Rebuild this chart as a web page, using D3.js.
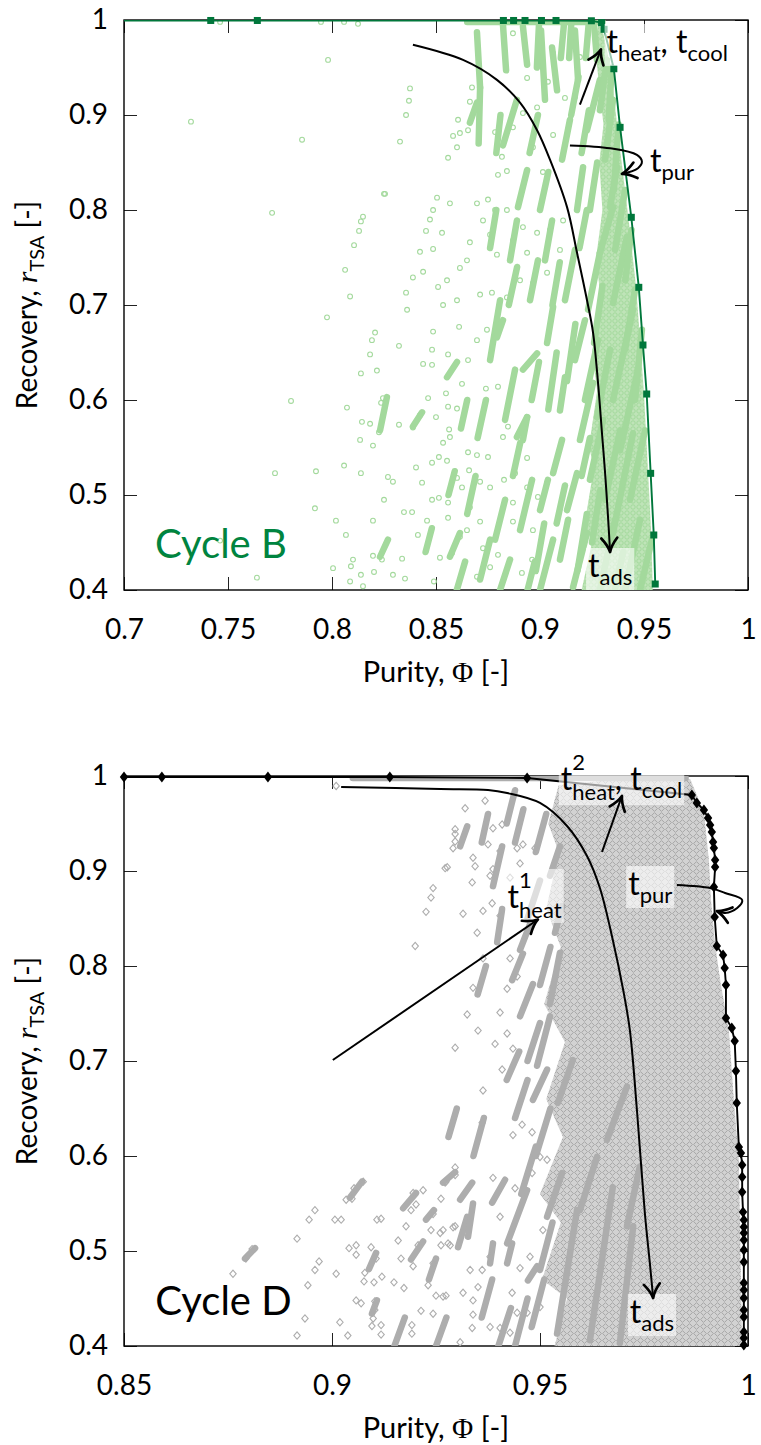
<!DOCTYPE html>
<html><head><meta charset="utf-8">
<script src="https://cdn.jsdelivr.net/npm/d3@7"></script>
<style>body{margin:0;background:#fff}svg{display:block}</style>
</head><body><script>
// ---------------- DATA ----------------
const xTicksB = [0.7,0.75,0.8,0.85,0.9,0.95,1];
const xTickLabelsB = ["0.7","0.75","0.8","0.85","0.9","0.95","1"];
const xTicksD = [0.85,0.9,0.95,1];
const xTickLabelsD = ["0.85","0.9","0.95","1"];
const yTicks = [0.4,0.5,0.6,0.7,0.8,0.9,1];
const yTickLabels = ["0.4","0.5","0.6","0.7","0.8","0.9","1"];

// Cycle B Pareto front (purity, recovery)
const frontB = [[0.69,0.9995],[0.7417,0.9995],[0.7641,0.9995],[0.8824,0.9995],[0.8873,0.9995],[0.8928,0.9995],[0.9007,0.9995],[0.9077,0.9995],[0.9247,0.9992],[0.9296,0.9972],[0.9308,0.9902],[0.9355,0.9487],[0.9385,0.887],[0.9439,0.7923],[0.9475,0.7186],[0.9495,0.6579],[0.9513,0.6063],[0.9532,0.5228],[0.9547,0.4579],[0.9554,0.4063]];

// Cycle B densely populated band next to the front
const denseB = [[0.9280,0.995],[0.9300,0.99],[0.9340,0.95],[0.9372,0.887],[0.9425,0.792],[0.9462,0.7186],[0.9483,0.6579],[0.9500,0.6063],[0.9520,0.5228],[0.9535,0.4579],[0.9542,0.40],[0.9200,0.40],[0.9250,0.45],[0.9215,0.47],[0.9260,0.53],[0.9235,0.55],[0.9275,0.61],[0.9250,0.65],[0.9290,0.71],[0.9270,0.75],[0.9300,0.80],[0.9285,0.85],[0.9305,0.89],[0.9285,0.93],[0.9265,0.97]];

// Cycle B dense streaks of simulations [x0,y0,x1,y1]
const streaksB = [[0.8712,0.929,0.8697,0.987],[0.8705,0.870,0.8712,0.929],[0.8938,0.953,0.8918,0.993],[0.9082,0.926,0.9058,0.971],[0.9024,0.916,0.9005,0.989],[0.9183,0.937,0.9168,0.989],[0.9274,0.958,0.9260,0.995],[0.8837,0.947,0.8822,0.995],[0.8822,0.868,0.8889,0.916],[0.9106,0.853,0.9144,0.895],[0.9178,0.800,0.9207,0.845],[0.8894,0.803,0.8938,0.842],[0.9226,0.884,0.9288,0.937],[0.9337,0.803,0.9370,0.845],[0.9288,0.755,0.9351,0.803],[0.9231,0.695,0.9288,0.755],[0.9351,0.702,0.9418,0.772],[0.9034,0.660,0.9063,0.698],[0.9096,0.589,0.9120,0.624],[0.9063,0.523,0.9106,0.558],[0.9130,0.484,0.9178,0.523],[0.9192,0.558,0.9255,0.618],[0.9274,0.582,0.9337,0.653],[0.9351,0.600,0.9447,0.695],[0.9351,0.460,0.9447,0.565],[0.9159,0.403,0.9226,0.460],[0.9000,0.400,0.9063,0.453],[0.8918,0.558,0.8938,0.582],[0.8918,0.632,0.8986,0.649],[0.9409,0.400,0.9481,0.474],[0.9481,0.400,0.9538,0.453],[0.9433,0.495,0.9505,0.568],[0.9385,0.547,0.9471,0.632],[0.9457,0.600,0.9490,0.674],[0.9288,0.400,0.9361,0.474],[0.9313,0.495,0.9385,0.568],[0.9240,0.516,0.9303,0.579],[0.9216,0.600,0.9279,0.663],[0.9409,0.653,0.9457,0.716],[0.9410,0.726,0.9440,0.779],[0.9361,0.758,0.9409,0.821],[0.9355,0.821,0.9378,0.890],[0.9313,0.853,0.9351,0.916],[0.9288,0.905,0.9322,0.958],[0.9330,0.895,0.9345,0.950],[0.8760,0.642,0.8808,0.705],[0.8832,0.579,0.8880,0.632],[0.8904,0.463,0.8962,0.516],[0.8784,0.453,0.8832,0.495],[0.8952,0.705,0.8990,0.747],[0.9024,0.747,0.9058,0.789],[0.8856,0.747,0.8889,0.789],[0.8712,0.411,0.8760,0.453],[0.8808,0.400,0.8856,0.432],[0.9000,0.484,0.9038,0.516],[0.8231,0.568,0.8264,0.603],[0.8231,0.435,0.8269,0.453],[0.8567,0.435,0.8615,0.460],[0.8889,0.561,0.8938,0.582],[0.8553,0.624,0.8601,0.640],[0.8389,0.572,0.8433,0.587],[0.8793,0.666,0.8822,0.684],[0.8663,0.892,0.8697,0.913],[0.9120,0.705,0.9168,0.758],[0.9096,0.432,0.9135,0.474],[0.9168,0.642,0.9216,0.684],[0.865,0.998,0.930,0.998],
[0.9130,0.620,0.9170,0.680],[0.9040,0.590,0.9080,0.650],[0.8960,0.600,0.8995,0.640],[0.9060,0.700,0.9095,0.745],[0.8980,0.420,0.9020,0.470],[0.9180,0.420,0.9225,0.480],[0.9250,0.450,0.9290,0.505],[0.9200,0.520,0.9240,0.560],[0.9260,0.660,0.9300,0.720],[0.9190,0.760,0.9225,0.800],[0.9240,0.800,0.9275,0.850],[0.9200,0.860,0.9235,0.905],[0.9150,0.900,0.9185,0.940],[0.8950,0.860,0.8990,0.900],[0.9000,0.800,0.9040,0.840],[0.8850,0.700,0.8890,0.740],[0.8870,0.520,0.8905,0.555],[0.8700,0.560,0.8740,0.600],[0.8650,0.480,0.8690,0.520],[0.8600,0.400,0.8640,0.430],[0.8940,0.400,0.8975,0.430],[0.9360,0.400,0.9400,0.440],[0.9080,0.470,0.9120,0.510],[0.8760,0.760,0.8790,0.800],[0.8620,0.570,0.8650,0.600],[0.8560,0.500,0.8590,0.525],[0.8450,0.440,0.8480,0.465],[0.8790,0.860,0.8810,0.900],[0.9100,0.960,0.9115,0.995],[0.8985,0.950,0.8995,0.995],[0.9140,0.960,0.9150,0.995],[0.9220,0.960,0.9235,0.998]];

// Cycle B isolated simulations
const pointsB = [[0.7462,0.998],[0.7947,0.998],[0.8058,0.998],[0.8125,0.996],[0.7981,0.958],[0.7322,0.893],[0.7856,0.874],[0.7712,0.797],[0.8149,0.793],[0.8139,0.788],[0.8130,0.778],[0.8106,0.763],[0.8063,0.737],[0.8087,0.709],[0.7976,0.687],[0.8250,0.817],[0.8207,0.671],[0.8192,0.663],[0.8183,0.648],[0.8139,0.628],[0.8216,0.631],[0.7803,0.599],[0.8072,0.592],[0.8245,0.602],[0.8236,0.597],[0.8144,0.577],[0.8183,0.575],[0.8226,0.566],[0.8135,0.558],[0.8197,0.552],[0.7726,0.523],[0.7923,0.525],[0.8058,0.531],[0.8139,0.523],[0.8250,0.495],[0.7918,0.486],[0.8019,0.473],[0.8197,0.473],[0.8067,0.458],[0.7462,0.452],[0.8101,0.432],[0.8197,0.436],[0.8091,0.425],[0.8005,0.423],[0.8240,0.432],[0.7639,0.413],[0.8087,0.409],[0.8139,0.416],[0.8202,0.419],[0.8149,0.404],
[0.8255,0.817],[0.8327,0.872],[0.8356,0.900],[0.8370,0.915],[0.8375,0.928],[0.8423,0.756],[0.8389,0.729],[0.8356,0.713],[0.8486,0.759],[0.8452,0.778],[0.8471,0.790],[0.8486,0.800],[0.8505,0.813],[0.8529,0.776],[0.8567,0.807],[0.8558,0.855],[0.8582,0.878],[0.8615,0.881],[0.8601,0.866],[0.8606,0.895],[0.8663,0.914],[0.8673,0.929],[0.8654,0.884],[0.8697,0.807],[0.8750,0.811],[0.8784,0.800],[0.8798,0.837],[0.8841,0.841],[0.8784,0.882],[0.8817,0.856],[0.8870,0.887],[0.8918,0.902],[0.8966,0.866],[0.8986,0.908],[0.8870,0.986],[0.8938,0.939],[0.9024,0.919],[0.9038,0.935],[0.9120,0.918],[0.9168,0.919],[0.9192,0.961],[0.9063,0.965],[0.9014,0.840],[0.9063,0.879],[0.8663,0.766],[0.8649,0.747],[0.8615,0.739],[0.8553,0.726],[0.8510,0.719],[0.8438,0.735],[0.8534,0.700],[0.8601,0.705],[0.8712,0.711],[0.8769,0.713],[0.8841,0.708],[0.8904,0.726],[0.8966,0.723],[0.9034,0.734],[0.9096,0.758],[0.9111,0.789],[0.9048,0.779],[0.8986,0.776],[0.8918,0.782],[0.8870,0.768],[0.8793,0.753],[0.8760,0.774],[0.8726,0.789],[0.8938,0.755],[0.8841,0.800],
[0.8361,0.695],[0.8322,0.657],[0.8486,0.672],[0.8481,0.653],[0.8438,0.638],[0.8481,0.637],[0.8558,0.648],[0.8611,0.677],[0.8654,0.642],[0.8697,0.663],[0.8745,0.674],[0.8462,0.602],[0.8548,0.607],[0.8625,0.617],[0.8740,0.612],[0.8798,0.614],[0.8558,0.593],[0.8601,0.591],[0.8500,0.582],[0.8322,0.574],[0.8389,0.571],[0.8423,0.584],[0.8563,0.569],[0.8567,0.561],[0.8534,0.555],[0.8514,0.540],[0.8481,0.534],[0.8404,0.529],[0.8553,0.536],[0.8654,0.545],[0.8659,0.526],[0.8697,0.542],[0.8750,0.540],[0.8822,0.561],[0.8846,0.572],[0.8433,0.513],[0.8269,0.519],[0.8293,0.514],[0.8481,0.495],[0.8514,0.497],[0.8558,0.492],[0.8601,0.518],[0.8625,0.508],[0.8346,0.482],[0.8385,0.482],[0.8457,0.473],[0.8558,0.476],[0.8519,0.434],[0.8413,0.458],[0.8337,0.433],[0.8293,0.416],[0.8351,0.412],[0.8490,0.409],[0.8577,0.439],[0.8615,0.456],[0.8649,0.463],[0.8712,0.472],[0.8769,0.453],[0.8726,0.444],[0.8697,0.414],[0.8798,0.437],[0.8760,0.424],[0.8870,0.472],[0.8870,0.492],[0.8827,0.516],[0.8760,0.508],[0.8712,0.514],[0.8663,0.487],[0.8913,0.418],[0.8962,0.432],[0.8966,0.463],[0.8880,0.523],[0.8938,0.539],[0.8938,0.508],[0.8990,0.498],[0.9034,0.513]];

// Cycle D Pareto front
const frontD = [[0.85,0.9989],[0.8591,0.9989],[0.8846,0.9989],[0.9139,0.9989],[0.9469,0.9979],[0.9865,0.98],[0.9877,0.9716],[0.9894,0.9642],[0.9904,0.9558],[0.9909,0.9484],[0.9913,0.9411],[0.9916,0.9305],[0.9918,0.9242],[0.9921,0.9116],[0.9921,0.9042],[0.9918,0.8832],[0.9920,0.8516],[0.9925,0.8211],[0.9940,0.8116],[0.9944,0.7979],[0.9947,0.78],[0.9947,0.7453],[0.9961,0.7347],[0.9968,0.7211],[0.9971,0.6895],[0.9973,0.6558],[0.9978,0.6095],[0.9983,0.6032],[0.9986,0.5905],[0.9986,0.5779],[0.9986,0.5621],[0.9988,0.5411],[0.9990,0.5326],[0.9990,0.5253],[0.9990,0.5189],[0.9990,0.5116],[0.9990,0.5011],[0.9990,0.4884],[0.9990,0.4663],[0.9990,0.4589],[0.9990,0.4505],[0.9990,0.4379],[0.9990,0.4305],[0.9990,0.4147],[0.9990,0.4084],[0.9990,0.4011]];

// Cycle D densely populated region (outline of overlapping simulations)
const denseD = [[0.9545,0.9905],[0.9692,0.9968],[0.9861,0.9968],[0.9894,0.9621],[0.9906,0.9116],[0.9911,0.8695],[0.9921,0.8221],[0.9935,0.78],[0.9954,0.7326],[0.9966,0.6589],[0.9978,0.5958],[0.9986,0.4],[0.9535,0.4],[0.9565,0.45],[0.9505,0.47],[0.9550,0.53],[0.9500,0.56],[0.9555,0.62],[0.9515,0.66],[0.9560,0.72],[0.9510,0.76],[0.9550,0.82],[0.9515,0.86],[0.9545,0.92],[0.9520,0.95]];

const streaksD = [[0.9190,0.491,0.9219,0.510],[0.9226,0.533,0.9245,0.543],[0.9233,0.470,0.9250,0.492],[0.9096,0.434,0.9108,0.448],[0.9089,0.481,0.9106,0.498],[0.9171,0.545,0.9202,0.561],[0.9267,0.572,0.9296,0.583],[0.8791,0.492,0.8815,0.503],[0.9043,0.556,0.9072,0.573],[0.9387,0.884,0.9409,0.926],[0.9397,0.825,0.9409,0.860],[0.9308,0.926,0.9325,0.947],[0.9452,0.817,0.9476,0.844],[0.9433,0.785,0.9459,0.813],[0.9452,0.747,0.9483,0.781],[0.9493,0.695,0.9524,0.747],[0.9524,0.760,0.9548,0.814],[0.9536,0.835,0.9553,0.863],[0.9524,0.895,0.9548,0.926],[0.9308,0.554,0.9337,0.572],[0.9303,0.504,0.9325,0.536],[0.9327,0.515,0.9339,0.550],[0.9380,0.487,0.9387,0.508],[0.9385,0.551,0.9416,0.575],[0.9421,0.487,0.9433,0.508],[0.9421,0.508,0.9469,0.564],[0.9517,0.536,0.9553,0.582],[0.9471,0.469,0.9493,0.484],[0.9541,0.413,0.9589,0.543],[0.9596,0.543,0.9637,0.599],[0.9620,0.406,0.9675,0.567],[0.9483,0.659,0.9517,0.691],[0.9543,0.656,0.9579,0.701],[0.9661,0.617,0.9709,0.673],[0.9692,0.403,0.9724,0.526],[0.9709,0.526,0.9740,0.589],[0.905,0.998,0.985,0.998],
[0.9440,0.400,0.9470,0.450],[0.9480,0.420,0.9510,0.470],[0.9500,0.480,0.9530,0.530],[0.9455,0.560,0.9490,0.610],[0.9490,0.600,0.9525,0.650],[0.9440,0.640,0.9470,0.680],[0.9470,0.700,0.9500,0.740],[0.9420,0.680,0.9450,0.710],[0.9500,0.780,0.9525,0.820],[0.9470,0.850,0.9500,0.890],[0.9490,0.920,0.9515,0.960],[0.9440,0.930,0.9460,0.965],[0.9420,0.950,0.9440,0.985],[0.9360,0.930,0.9375,0.960],[0.9400,0.400,0.9430,0.440],[0.9360,0.430,0.9385,0.470],[0.9340,0.600,0.9365,0.640],[0.9280,0.620,0.9300,0.650],[0.9250,0.400,0.9275,0.430],[0.9150,0.400,0.9175,0.430],[0.9350,0.770,0.9370,0.800]];

const pointsD = [[0.9010,0.9895],[0.9296,0.944],[0.9296,0.931],[0.9277,0.904],[0.9243,0.882],[0.9238,0.872],[0.9226,0.857],[0.9200,0.821],[0.9296,0.714],[0.9075,0.573],[0.9053,0.566],[0.9034,0.554],[0.9048,0.555],[0.8959,0.543],[0.8945,0.533],[0.8916,0.513],[0.9007,0.533],[0.9022,0.533],[0.8808,0.502],[0.8793,0.492],[0.8762,0.476],[0.8969,0.489],[0.8959,0.480],[0.9010,0.476],[0.8942,0.464],[0.8935,0.429],[0.8916,0.411],[0.9019,0.425],[0.9038,0.411],[0.9058,0.496],[0.9041,0.503],[0.9094,0.504],[0.9106,0.492],[0.9108,0.533],[0.9118,0.534],[0.9058,0.506],[0.9079,0.477],[0.9077,0.468],[0.9101,0.467],[0.9120,0.473],[0.9058,0.448],[0.9070,0.445],[0.9103,0.447],[0.9103,0.438],[0.9099,0.429],[0.9096,0.421],[0.9118,0.422],[0.9118,0.412],[0.9159,0.511],[0.9166,0.492],[0.9149,0.467],[0.9173,0.461],[0.9195,0.561],[0.9202,0.549],[0.9219,0.564],[0.9190,0.543],[0.9178,0.526],[0.9207,0.506],[0.9195,0.484],[0.9214,0.437],[0.9192,0.422],[0.9192,0.413],[0.9243,0.434],[0.9231,0.464],[0.9243,0.487],[0.9250,0.453],[0.9274,0.453],[0.9243,0.539],[0.9238,0.522],[0.9267,0.522],[0.9262,0.506],[0.9284,0.506],[0.9262,0.555],[0.9274,0.573],[0.9296,0.580],[0.9296,0.526],
[0.9272,0.903],[0.9337,0.888],[0.9315,0.855],[0.9344,0.905],[0.9339,0.914],[0.9368,0.974],[0.9296,0.939],[0.9291,0.924],[0.9320,0.966],[0.9387,0.945],[0.9409,0.949],[0.9375,0.928],[0.9404,0.921],[0.9387,0.902],[0.9380,0.895],[0.9428,0.893],[0.9445,0.924],[0.9459,0.928],[0.9488,0.924],[0.9452,0.908],[0.9363,0.858],[0.9385,0.866],[0.9404,0.853],[0.9349,0.835],[0.9363,0.808],[0.9339,0.777],[0.9325,0.749],[0.9351,0.732],[0.9404,0.751],[0.9421,0.729],[0.9435,0.713],[0.9392,0.718],[0.9428,0.808],[0.9445,0.789],[0.9421,0.776],
[0.9260,0.519],[0.9267,0.452],[0.9296,0.588],[0.9272,0.572],[0.9279,0.508],[0.9291,0.525],[0.9308,0.404],[0.9337,0.419],[0.9315,0.456],[0.9339,0.448],[0.9361,0.635],[0.9363,0.669],[0.9409,0.691],[0.9435,0.622],[0.9457,0.633],[0.9481,0.625],[0.9517,0.596],[0.9500,0.599],[0.9481,0.582],[0.9387,0.577],[0.9440,0.566],[0.9404,0.536],[0.9380,0.494],[0.9361,0.480],[0.9332,0.480],[0.9351,0.462],[0.9380,0.420],[0.9404,0.419],[0.9339,0.433],[0.9428,0.414],[0.9445,0.435],[0.9469,0.435],[0.9500,0.441],[0.9433,0.456],[0.9452,0.482],[0.9476,0.494],[0.9507,0.522]];

// Annotation arrows (data coordinates)
const arrowsB = [
  [[0.8389,0.974],[0.8630,0.958],[0.8793,0.937],[0.8904,0.913],[0.8986,0.884],[0.9048,0.853],[0.9130,0.803],[0.9178,0.755],[0.9226,0.705],[0.9255,0.671],[0.9279,0.618],[0.9298,0.565],[0.9313,0.523],[0.9327,0.477],[0.9337,0.44]],
  [[0.9192,0.911],[0.9293,0.969]],
  [[0.9144,0.868],[0.9337,0.865],[0.9466,0.858],[0.9490,0.851],[0.9471,0.844],[0.9394,0.838]]
];
const arrowsD = [
  [[0.9022,0.9884],[0.9260,0.9863],[0.9375,0.9853],[0.9421,0.9821],[0.9500,0.9716],[0.9565,0.9474],[0.9613,0.9158],[0.9644,0.8821],[0.9675,0.8274],[0.9700,0.7747],[0.9716,0.7326],[0.9733,0.6484],[0.9752,0.54],[0.9764,0.4874],[0.9772,0.4505]],
  [[0.9002,0.701],[0.9495,0.849]],
  [[0.9649,0.92],[0.9697,0.979]],
  [[0.9829,0.8853],[0.9909,0.8821],[0.9945,0.8768],[0.9986,0.8695],[0.9974,0.861],[0.9945,0.8558],[0.9925,0.8579]]
];
// Labels: [x, y, segments]
const labelsB = [
  [0.9320,0.9653,[["t"],["heat","sub"],[", t"],["cool","sub"]]],
  [0.9529,0.840,[["t"],["pur","sub"]]],
  [0.9231,0.4137,[["t"],["ads","sub"]]]
];
const labelsD = [
  [0.9550,0.9853,[["t"],["2","sup"],["heat","subsup"],[", t"],["cool","sub"]]],
  [0.9422,0.8611,[["t"],["1","sup"],["heat","subsup"]]],
  [0.9712,0.8747,[["t"],["pur","sub"]]],
  [0.9716,0.4242,[["t"],["ads","sub"]]]
];

// ---------------- DRAWING ----------------
const FONT = "Lato, 'Liberation Sans', 'DejaVu Sans', sans-serif";
const svg = d3.select('body').append('svg').attr('width',761).attr('height',1445)
  .style('font-family',FONT);
const defs = svg.append('defs');
const patD = defs.append('pattern').attr('id','texD').attr('patternUnits','userSpaceOnUse').attr('width',7).attr('height',7);
patD.append('rect').attr('width',7).attr('height',7).attr('fill','#d2d2d2');
patD.append('path').attr('d','M3.5,0.6L6.4,3.5L3.5,6.4L0.6,3.5Z').attr('fill','none').attr('stroke','#a6a6a6').attr('stroke-width',1);
const patB = defs.append('pattern').attr('id','texB').attr('patternUnits','userSpaceOnUse').attr('width',6).attr('height',6);
patB.append('rect').attr('width',6).attr('height',6).attr('fill','#bfe4b8');
patB.append('circle').attr('cx',3).attr('cy',3).attr('r',2.2).attr('fill','none').attr('stroke','#a3d99c').attr('stroke-width',1);

const L=124, R=748, PH=570;

function arrowHead(g, p, ang, color){
  const len=14, w=8;
  const ca=Math.cos(ang), sa=Math.sin(ang);
  const bx=p[0]-ca*len, by=p[1]-sa*len;
  const nx=-sa, ny=ca;
  const l=[bx+nx*w, by+ny*w], r=[bx-nx*w, by-ny*w];
  const c1=[p[0]-ca*len*0.45+nx*w*0.2, p[1]-sa*len*0.45+ny*w*0.2];
  const c2=[p[0]-ca*len*0.45-nx*w*0.2, p[1]-sa*len*0.45-ny*w*0.2];
  g.append('path').attr('d',`M${l[0]},${l[1]}Q${c1[0]},${c1[1]} ${p[0]},${p[1]}Q${c2[0]},${c2[1]} ${r[0]},${r[1]}`)
    .attr('fill','none').attr('stroke',color).attr('stroke-width',2.7).attr('stroke-linecap','round').attr('stroke-linejoin','round');
}

function panel(p){
  const top=p.top, bot=top+PH;
  const x=d3.scaleLinear().domain(p.xDomain).range([L,R]);
  const y=d3.scaleLinear().domain([0.4,1]).range([bot,top]);
  const g=svg.append('g');
  defs.append('clipPath').attr('id','clip'+p.id).append('rect').attr('x',L).attr('y',top).attr('width',R-L).attr('height',PH);

  // axes (ticks inside on all sides)
  const ax=g.append('g').attr('class','axes');
  ax.append('g').attr('transform',`translate(0,${bot})`)
    .call(d3.axisBottom(x).tickValues(p.xTicks).tickFormat((d,i)=>p.xTickLabels[i]).tickSize(-13).tickPadding(29));
  ax.append('g').attr('transform',`translate(0,${top})`)
    .call(d3.axisTop(x).tickValues(p.xTicks).tickFormat('').tickSize(-13));
  ax.append('g').attr('transform',`translate(${L},0)`)
    .call(d3.axisLeft(y).tickValues(yTicks).tickFormat((d,i)=>yTickLabels[i]).tickSize(-13).tickPadding(16));
  ax.append('g').attr('transform',`translate(${R},0)`)
    .call(d3.axisRight(y).tickValues(yTicks).tickFormat('').tickSize(-13));
  ax.selectAll('.domain').remove();
  ax.selectAll('.tick line').attr('stroke','#222').attr('stroke-width',1);
  ax.selectAll('.tick text').attr('font-size',28).attr('fill','#000').style('font-family',FONT);
  g.append('rect').attr('x',L).attr('y',top).attr('width',R-L).attr('height',PH)
    .attr('fill','none').attr('stroke','#000').attr('stroke-width',1.4);

  // titles
  const xt=g.append('text').attr('x',(L+R)/2).attr('y',bot+92).attr('text-anchor','middle').attr('font-size',29);
  xt.append('tspan').text('Purity, ');
  xt.append('tspan').text('Φ').style('font-family',"'Liberation Serif','DejaVu Serif',serif");
  xt.append('tspan').text(' [-]');
  const yt=g.append('text').attr('transform',`translate(37,${(top+bot)/2}) rotate(-90)`).attr('text-anchor','middle').attr('font-size',28);
  yt.append('tspan').text('Recovery, ');
  yt.append('tspan').text('r').style('font-style','italic').style('font-family',"'Liberation Serif','DejaVu Serif',serif").attr('font-size',30);
  yt.append('tspan').text('TSA').attr('font-size',20).attr('dy',7);
  yt.append('tspan').text(' [-]').attr('dy',-7);

  // simulations
  const sc=g.append('g').attr('clip-path',`url(#clip${p.id})`);
  sc.append('path').datum(p.dense).attr('d',d3.line().x(d=>x(d[0])).y(d=>y(d[1])).curve(d3.curveLinearClosed))
    .attr('fill',`url(#${p.tex})`).attr('stroke','none');
  sc.selectAll('line.st').data(p.streaks).join('line').attr('class','st')
    .attr('x1',d=>x(d[0])).attr('y1',d=>y(d[1])).attr('x2',d=>x(d[2])).attr('y2',d=>y(d[3]))
    .attr('stroke',p.light).attr('stroke-width',6.5).attr('stroke-linecap','round');
  if(p.marker==='circle'){
    sc.selectAll('circle.pt').data(p.points).join('circle').attr('class','pt')
      .attr('cx',d=>x(d[0])).attr('cy',d=>y(d[1])).attr('r',2.4)
      .attr('fill','none').attr('stroke',p.light).attr('stroke-width',1.1);
  } else {
    sc.selectAll('path.pt').data(p.points).join('path').attr('class','pt')
      .attr('d',d=>{const cx=x(d[0]),cy=y(d[1]);return `M${cx},${cy-3.6}L${cx+3.2},${cy}L${cx},${cy+3.6}L${cx-3.2},${cy}Z`;})
      .attr('fill','none').attr('stroke',p.light).attr('stroke-width',1.1);
  }

  // front
  g.append('path').datum(p.front).attr('clip-path',`url(#clip${p.id})`)
    .attr('d',d3.line().x(d=>x(d[0])).y(d=>y(d[1])))
    .attr('fill','none').attr('stroke',p.frontColor).attr('stroke-width',1.9);
  const inDom=p.front.filter(d=>d[0]>=p.xDomain[0]);
  if(p.marker==='circle'){
    g.selectAll('rect.fm').data(inDom).join('rect').attr('class','fm')
      .attr('x',d=>x(d[0])-3.5).attr('y',d=>y(d[1])-3.5).attr('width',7).attr('height',7).attr('fill',p.frontColor);
  } else {
    g.selectAll('path.fm').data(inDom).join('path').attr('class','fm')
      .attr('d',d=>{const cx=x(d[0]),cy=y(d[1]);return `M${cx},${cy-5.5}L${cx+4.2},${cy}L${cx},${cy+5.5}L${cx-4.2},${cy}Z`;})
      .attr('fill',p.frontColor);
  }

  // label boxes + labels
  const lg=g.append('g');
  const FS=32, SS=22;
  p.labels.forEach(lb=>{
    const t=lg.append('text').attr('x',x(lb[0])).attr('y',y(lb[1])).attr('font-size',FS);
    let shift=0, lastSup=null;
    lb[2].forEach(s=>{
      const kind=s[1]||'n';
      let target=0, fs=FS;
      if(kind==='sub'){target=8;fs=SS;}
      if(kind==='subsup'){target=10;fs=SS;}
      if(kind==='sup'){target=-20;fs=SS;}
      const ts=t.append('tspan').text(s[0]).attr('font-size',fs).attr('dy',target-shift);
      if(kind==='subsup' && lastSup){ ts.attr('dx',-lastSup.node().getComputedTextLength()); }
      lastSup = kind==='sup'?ts:null;
      shift=target;
    });
    const bb=t.node().getBBox();
    lg.insert('rect','text').attr('x',bb.x-2).attr('y',bb.y+3).attr('width',bb.width+4).attr('height',bb.height-3)
      .attr('fill','#fff').attr('fill-opacity',0.6);
  });
  lg.selectAll('rect').lower();

  // arrows
  const ag=g.append('g');
  p.arrows.forEach(a=>{
    const path=ag.append('path').datum(a)
      .attr('d',d3.line().x(d=>x(d[0])).y(d=>y(d[1])).curve(d3.curveCatmullRom.alpha(0.5)))
      .attr('fill','none').attr('stroke','#000').attr('stroke-width',2);
    const n=path.node(), tl=n.getTotalLength();
    const e=n.getPointAtLength(tl), b=n.getPointAtLength(Math.max(0,tl-6));
    arrowHead(ag,[e.x,e.y],Math.atan2(e.y-b.y,e.x-b.x),'#000');
  });

  // cycle name
  g.append('text').attr('x',x(p.cycle[0])).attr('y',y(p.cycle[1])).attr('font-size',40)
    .attr('fill',p.cycleColor).text(p.cycle[2]);
}

panel({id:'B',top:20,xDomain:[0.7,1],xTicks:xTicksB,xTickLabels:xTickLabelsB,
  streaks:streaksB,points:pointsB,dense:denseB,tex:'texB',light:'#a3d99c',marker:'circle',
  front:frontB,frontColor:'#00773b',arrows:arrowsB,labels:labelsB,
  cycle:[0.7149,0.4337,'Cycle B'],cycleColor:'#00843f'});
panel({id:'D',top:776,xDomain:[0.85,1],xTicks:xTicksD,xTickLabels:xTickLabelsD,
  streaks:streaksD,points:pointsD,dense:denseD,tex:'texD',light:'#adadad',marker:'diamond',
  front:frontD,frontColor:'#000',arrows:arrowsD,labels:labelsD,
  cycle:[0.8575,0.4326,'Cycle D'],cycleColor:'#000'});
</script></body></html>
